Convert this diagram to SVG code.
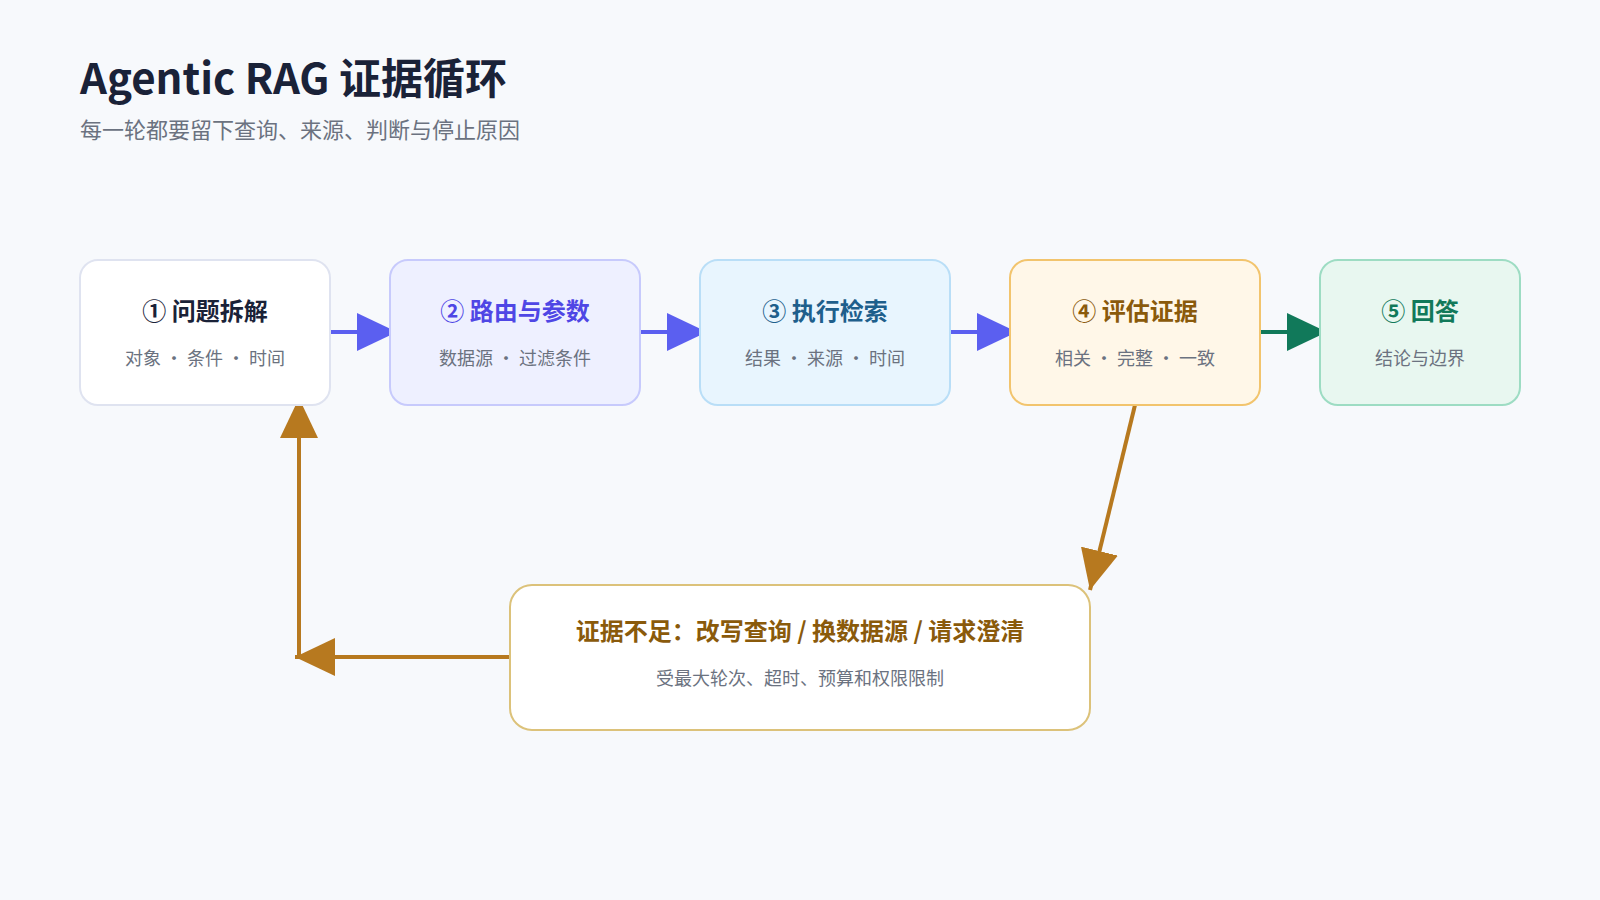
<svg xmlns="http://www.w3.org/2000/svg" width="1600" height="900" viewBox="0 0 1600 900">
<style>
text{font-family:"Noto Sans CJK SC","Noto Sans",sans-serif}
.t{font-size:24px;font-weight:700;text-anchor:middle}
.s{font-size:18px;fill:#6b7280;text-anchor:middle}
</style>
<defs>
<marker id="ab" viewBox="0 0 40 38" refX="40" refY="19" markerWidth="40" markerHeight="38" markerUnits="userSpaceOnUse" orient="auto"><path d="M0 0L40 19L0 38Z" fill="#5b5ff0"/></marker>
<marker id="ag" viewBox="0 0 40 38" refX="40" refY="19" markerWidth="40" markerHeight="38" markerUnits="userSpaceOnUse" orient="auto"><path d="M0 0L40 19L0 38Z" fill="#11795a"/></marker>
<marker id="ao" viewBox="0 0 40 38" refX="40" refY="19" markerWidth="40" markerHeight="38" markerUnits="userSpaceOnUse" orient="auto"><path d="M0 0L40 19L0 38Z" fill="#b7791f"/></marker>
</defs>
<rect width="1600" height="900" fill="#f7f9fc"/>
<text x="80" y="94" font-size="42" font-weight="700" fill="#1a2238">Agentic RAG 证据循环</text>
<text x="80" y="138" font-size="22" fill="#6b7280">每一轮都要留下查询、来源、判断与停止原因</text>
<g id="connectors" fill="none" stroke-width="4">
<path d="M330 332H397" stroke="#5b5ff0" marker-end="url(#ab)"/>
<path d="M640 332H707" stroke="#5b5ff0" marker-end="url(#ab)"/>
<path d="M950 332H1017" stroke="#5b5ff0" marker-end="url(#ab)"/>
<path d="M1260 332H1327" stroke="#11795a" marker-end="url(#ag)"/>
<path d="M1135 405L1090 590" stroke="#b7791f" marker-end="url(#ao)"/>
<path d="M510 657H295" stroke="#b7791f" marker-end="url(#ao)"/>
<path d="M299 657V398" stroke="#b7791f" marker-end="url(#ao)"/>
</g>
<g id="n1"><rect x="80" y="260" width="250" height="145" rx="18" fill="#fff" stroke="#dfe3f0" stroke-width="2"/><text class="t" x="205" y="320" fill="#1a2238">① 问题拆解</text><text class="s" x="205" y="365">对象 · 条件 · 时间</text></g>
<g id="n2"><rect x="390" y="260" width="250" height="145" rx="18" fill="#eef0ff" stroke="#c7cafc" stroke-width="2"/><text class="t" x="515" y="320" fill="#4f46e5">② 路由与参数</text><text class="s" x="515" y="365">数据源 · 过滤条件</text></g>
<g id="n3"><rect x="700" y="260" width="250" height="145" rx="18" fill="#e8f5fe" stroke="#b9def7" stroke-width="2"/><text class="t" x="825" y="320" fill="#1e5f8c">③ 执行检索</text><text class="s" x="825" y="365">结果 · 来源 · 时间</text></g>
<g id="n4"><rect x="1010" y="260" width="250" height="145" rx="18" fill="#fff7e8" stroke="#f2c46d" stroke-width="2"/><text class="t" x="1135" y="320" fill="#8a5a0b">④ 评估证据</text><text class="s" x="1135" y="365">相关 · 完整 · 一致</text></g>
<g id="n5"><rect x="1320" y="260" width="200" height="145" rx="18" fill="#e8f7f0" stroke="#9ddcc3" stroke-width="2"/><text class="t" x="1420" y="320" fill="#11795a">⑤ 回答</text><text class="s" x="1420" y="365">结论与边界</text></g>
<g id="n6"><rect x="510" y="585" width="580" height="145" rx="22" fill="#fff" stroke="#dcc27a" stroke-width="2"/><text class="t" x="800" y="640" fill="#8a5a0b">证据不足：改写查询 / 换数据源 / 请求澄清</text><text class="s" x="800" y="685">受最大轮次、超时、预算和权限限制</text></g>
</svg>
